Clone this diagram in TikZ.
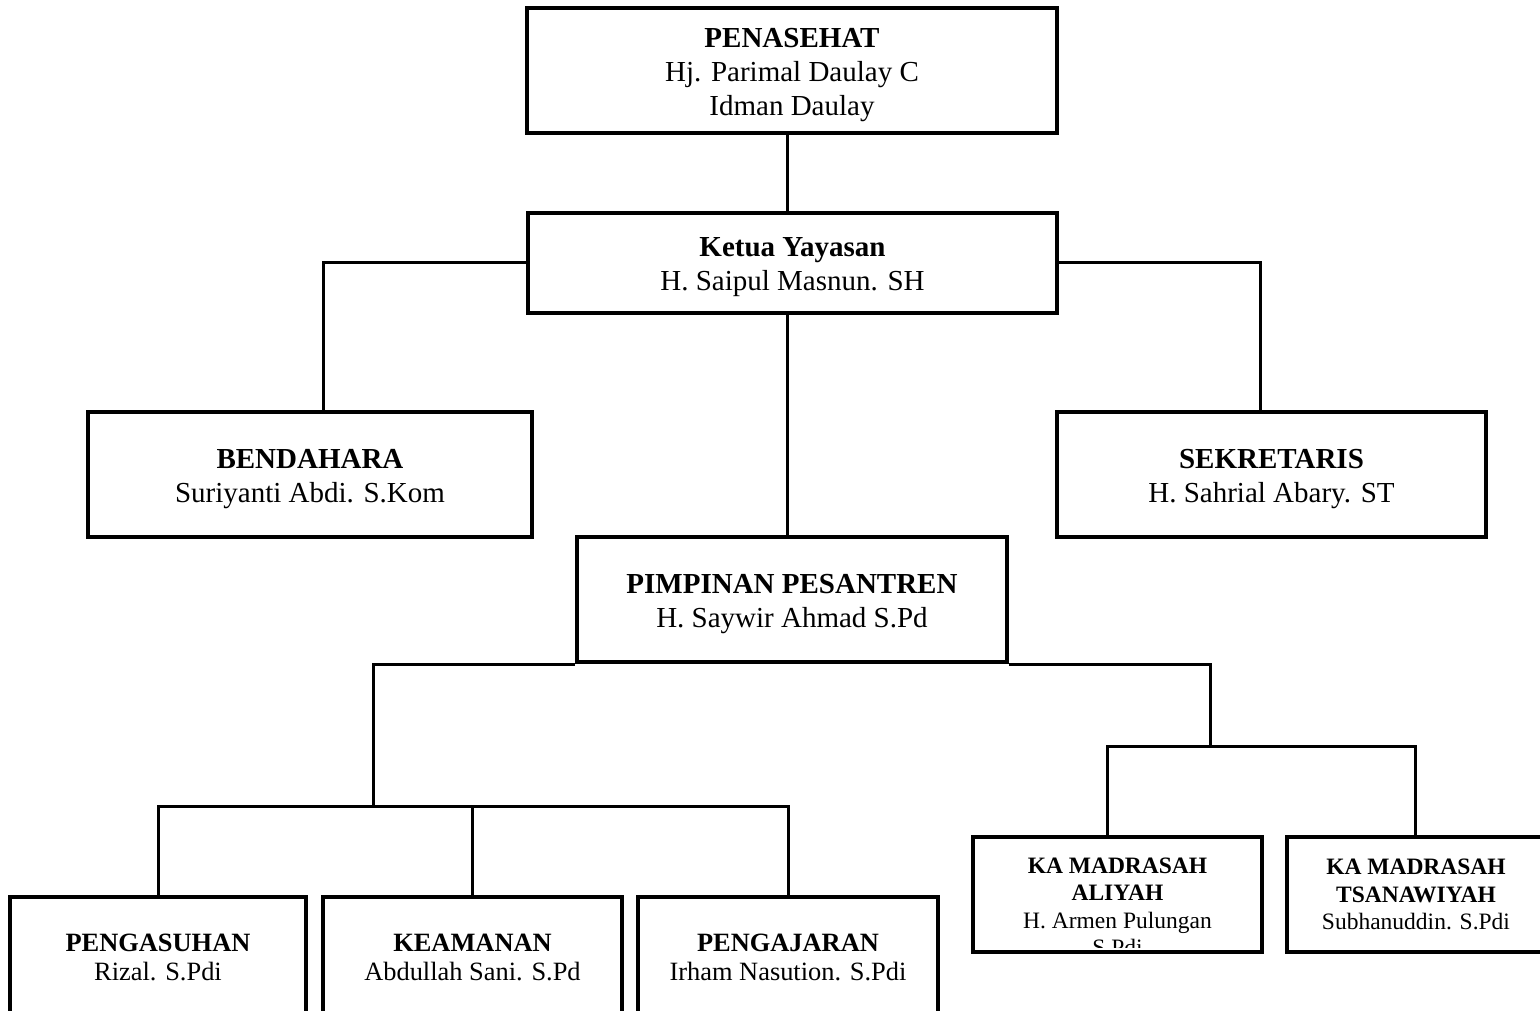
\documentclass[tikz,border=0pt]{standalone}
\usepackage{fontspec}
\setmainfont{Liberation Serif}
\usetikzlibrary{calc}
\begin{document}
\begin{tikzpicture}[x=1pt,y=-1pt,
  box/.style={draw, line width=4pt, rectangle, inner sep=0pt, align=center},
  conn/.style={line width=3pt},
  big/.style={font=\fontsize{29}{34}\selectfont},
  bigtext/.style={big, align=center, inner sep=0pt, yshift=-4.5pt},
  mid/.style={font=\fontsize{26.4}{29}\selectfont},
  small/.style={font=\fontsize{23.5}{27.5}\selectfont}]
\clip (0,0) rectangle (1540,1011);
\fill[white] (0,0) rectangle (1540,1011);

% boxes
\node[box, minimum width=530, minimum height=125,
  label={[bigtext]center:{\textbf{PENASEHAT}\\Hj. Parimal Daulay C\\Idman Daulay}}] (pen) at (792,70.5) {};
\node[box, minimum width=529, minimum height=100,
  label={[bigtext]center:{\textbf{Ketua Yayasan}\\H. Saipul Masnun. SH}}] (ket) at (792.5,263) {};
\node[box, minimum width=444, minimum height=125,
  label={[bigtext]center:{\textbf{BENDAHARA}\\Suriyanti Abdi. S.Kom}}] (ben) at (310,474.5) {};
\node[box, minimum width=429, minimum height=125,
  label={[bigtext]center:{\textbf{SEKRETARIS}\\H. Sahrial Abary. ST}}] (sek) at (1271.5,474.5) {};
\node[box, minimum width=430, minimum height=125,
  label={[bigtext]center:{\textbf{PIMPINAN PESANTREN}\\H. Saywir Ahmad S.Pd}}] (pim) at (792,599.5) {};
\node[box, mid, minimum width=296, minimum height=120] (pgs) at (158,957)
  {\textbf{PENGASUHAN}\\Rizal. S.Pdi};
\node[box, mid, minimum width=299, minimum height=120] (kea) at (472.5,957)
  {\textbf{KEAMANAN}\\Abdullah Sani. S.Pd};
\node[box, mid, minimum width=300, minimum height=120] (pgj) at (788,957)
  {\textbf{PENGAJARAN}\\Irham Nasution. S.Pdi};
\node[box, minimum width=289, minimum height=115] (ali) at (1117.5,894.5) {};
\begin{scope}
  \clip (975,839) rectangle (1260,947);
  \node[small, align=center, inner sep=0pt] (aliT) at (1117.5,907)
    {\textbf{KA MADRASAH}\\\textbf{ALIYAH}\\H. Armen Pulungan\\S.Pdi};
\end{scope}
\node[box, small, minimum width=258, minimum height=115] (tsa) at (1416,894.5)
  {\textbf{KA MADRASAH}\\\textbf{TSANAWIYAH}\\Subhanuddin. S.Pdi};

% connectors
\coordinate (cx) at (787,0);
\coordinate (bx) at (323,0);
\coordinate (sx) at (1260,0);
\coordinate (ax) at (1107,0);
\coordinate (tx) at (1415,0);
\coordinate (lj) at (373,806);
\coordinate (rj) at (1210,746);
\draw[conn] (pen.south -| cx) -- (ket.north -| cx);
\draw[conn] (ket.south -| cx) -- (pim.north -| cx);
\draw[conn] (ket.west) -| (ben.north -| bx);
\draw[conn] (ket.east) -| (sek.north -| sx);
\draw[conn] (pim.south west) -| (lj);
\draw[conn] (pgs.north) |- (lj) -| (pgj.north);
\draw[conn] (lj -| kea.north) -- (kea.north);
\draw[conn] (pim.south east) -| (rj);
\draw[conn] (ali.north -| ax) |- (rj) -| (tsa.north -| tx);
\end{tikzpicture}
\end{document}
